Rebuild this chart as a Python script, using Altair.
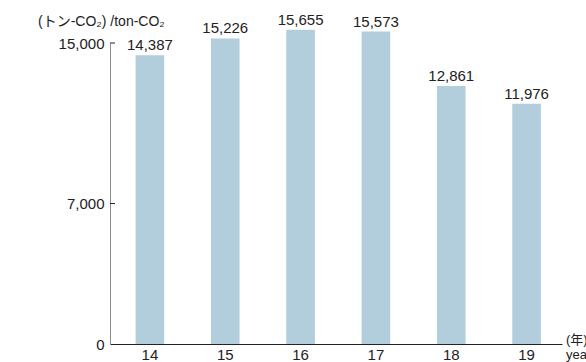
import altair as alt
import pandas as pd

# CO2 emissions by fiscal year (ton-CO2)
years = ["14", "15", "16", "17", "18", "19"]
emissions = [14387, 15226, 15655, 15573, 12861, 11976]
y_ticks = [0, 7000, 15000]
inner_ticks = [7000, 15000]
unit_label = "(トン-CO₂) /ton-CO₂"
year_label_ja = "(年)"
year_label_en = "year"

FONT = "Liberation Sans, Noto Sans CJK JP, sans-serif"
BAR = "#b2cddb"
TEXT = "#222222"

df = pd.DataFrame({"year": years, "value": emissions})

x_enc = alt.X(
    "year:N",
    sort=years,
    scale=alt.Scale(paddingInner=0.62, paddingOuter=0.31, align=0.548),
    axis=alt.Axis(
        title=None, labelAngle=0, ticks=False, domainColor=TEXT, domainWidth=1.2,
        labelFontSize=15, labelColor=TEXT, labelPadding=3, labelFont=FONT,
    ),
)
y_scale = alt.Scale(domain=[0, 15000], nice=False, zero=True)

bars = alt.Chart(df).mark_bar(color=BAR).encode(
    x=x_enc,
    y=alt.Y(
        "value:Q",
        scale=y_scale,
        axis=alt.Axis(
            title=None, values=y_ticks, format=",d", ticks=False, grid=False,
            domainColor="#8c8c8c", domainWidth=1, labelFontSize=15,
            labelColor=TEXT, labelPadding=6, labelFont=FONT,
        ),
    ),
)

values = alt.Chart(df).mark_text(
    baseline="bottom", dy=-2, fontSize=15, color=TEXT, font=FONT
).encode(
    x=alt.X("year:N", sort=years),
    y=alt.Y("value:Q"),
    text=alt.Text("value:Q", format=","),
)

# short inward ticks on the value axis
tick_df = pd.DataFrame({"v": inner_ticks})
ticks = alt.Chart(tick_df).mark_rule(color=TEXT, strokeWidth=1).encode(
    y=alt.Y("v:Q"),
    x=alt.value(0),
    x2=alt.value(5),
)

def note(text, x, y, size):
    return alt.Chart(pd.DataFrame({"t": [text]})).mark_text(
        align="left", baseline="middle", fontSize=size, color=TEXT, font=FONT
    ).encode(x=alt.value(x), y=alt.value(y), text="t:N")

unit = note(unit_label, -72, -21, 14)
yr_ja = note(year_label_ja, 456, 297, 13)
yr_en = note(year_label_en, 456, 312, 13)

chart = alt.layer(bars, ticks, values, unit, yr_ja, yr_en).properties(
    width=452,
    height=301,
    autosize=alt.AutoSizeParams(type="none"),
    padding={"left": 110, "top": 43, "right": 24, "bottom": 18},
    background="white",
).configure_view(stroke=None)

chart.save("out.html", embed_options={"renderer": "svg", "actions": False})
